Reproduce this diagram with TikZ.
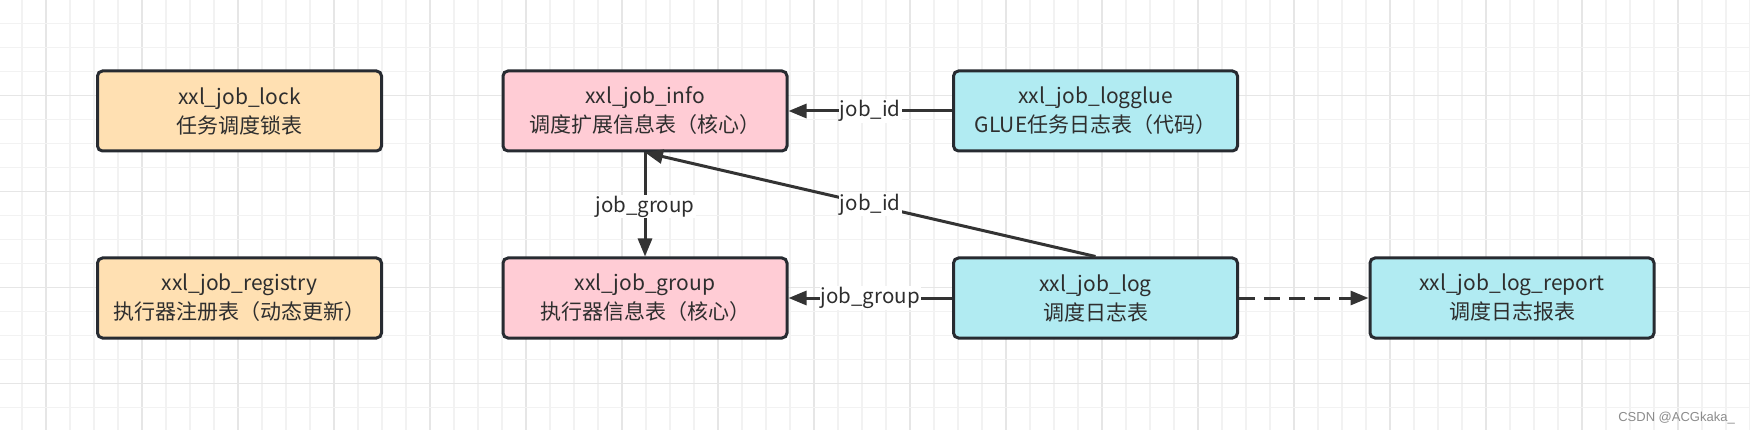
\documentclass[tikz,border=0pt]{standalone}
\usepackage{fontspec}
\setmainfont{Noto Sans CJK SC}
\newfontfamily\wmfont{Liberation Sans}
\usetikzlibrary{arrows.meta}
\definecolor{gridminor}{HTML}{F2F2F2}
\definecolor{gridmajor}{HTML}{E6E6E6}
\definecolor{boxline}{HTML}{272B31}
\definecolor{txt}{HTML}{2E2E2E}
\definecolor{peach}{HTML}{FFE0B2}
\definecolor{pinkc}{HTML}{FFCCD5}
\definecolor{cyanc}{HTML}{B1EBF2}
\definecolor{conncol}{HTML}{333333}
\tikzset{
  tbl/.style={rectangle, rounded corners=5pt, draw=boxline, line width=3pt,
    minimum width=284pt, minimum height=80pt, align=center, text=txt,
    font=\fontsize{21}{29}\selectfont, inner sep=0pt},
  tperm/.style={tbl, fill=peach},
  tcore/.style={tbl, fill=pinkc},
  tlog/.style={tbl, fill=cyanc},
  conn/.style={draw=conncol, line width=3pt, -{Triangle[length=18pt,width=14pt]}},
  lbl/.style={fill=white, text=txt, font=\fontsize{20.5}{23}\selectfont, inner sep=1pt}
}
\begin{document}
\begin{tikzpicture}[x=1pt,y=-1pt]
\useasboundingbox (0,0) rectangle (1750,430);
\fill[white] (0,0) rectangle (1750,430);
% grid
\foreach \k in {0,...,72}{
  \pgfmathsetmacro{\xx}{22+24*\k}
  \pgfmathtruncatemacro{\m}{mod(\k,4)}
  \ifnum\m=1
    \draw[gridmajor, line width=1.6pt] (\xx,0) -- (\xx,430);
  \else
    \draw[gridminor, line width=1.6pt] (\xx,0) -- (\xx,430);
  \fi
}
\foreach \k in {1,...,18}{
  \pgfmathsetmacro{\yy}{-0.5+24*\k}
  \pgfmathtruncatemacro{\m}{mod(\k,4)}
  \ifnum\m=0
    \draw[gridmajor, line width=1.6pt] (0,\yy) -- (1750,\yy);
  \else
    \draw[gridminor, line width=1.6pt] (0,\yy) -- (1750,\yy);
  \fi
}
% tables
\node[tperm] (lock) at (239.5,111) {xxl\_job\_lock\\任务调度锁表};
\node[tcore] (info) at (645,111) {xxl\_job\_info\\调度扩展信息表（核心）};
\node[tlog] (logglue) at (1095.5,111) {xxl\_job\_logglue\\GLUE任务日志表（代码）};
\node[tperm] (registry) at (239.5,298) {xxl\_job\_registry\\执行器注册表（动态更新）};
\node[tcore] (group) at (645,298) {xxl\_job\_group\\执行器信息表（核心）};
\node[tlog] (log) at (1095.5,298) {xxl\_job\_log\\调度日志表};
\node[tlog] (report) at (1512,298) {xxl\_job\_log\_report\\调度日志报表};
% connectors
\draw[conn] (logglue.west) -- node[lbl] {job\_id} (info.east);
\draw[conn] (info.south) -- node[lbl, pos=0.52] {job\_group} (group.north);
\draw[conn] (log.north) -- node[lbl] {job\_id} (info.south);
\draw[conn] (log.west) -- node[lbl] {job\_group} (group.east);
\draw[conn, dash pattern=on 16pt off 9pt] (log.east) -- (report.west);
% watermark
\node[anchor=base east, text=black!45, font=\wmfont\fontsize{13}{15}\selectfont, inner sep=0pt] (wm) at (1735,421) {CSDN @ACGkaka\_};
\end{tikzpicture}
\end{document}
